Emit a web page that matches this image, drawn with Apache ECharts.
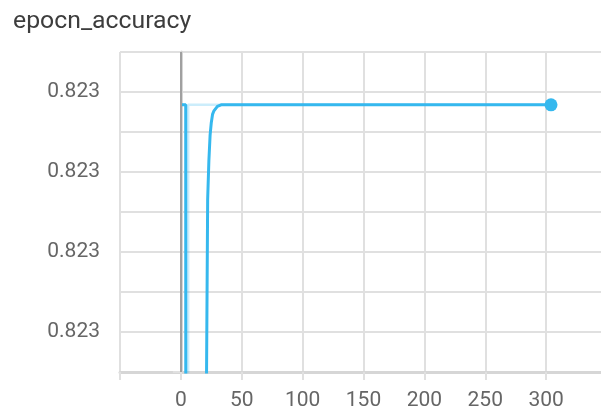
<!DOCTYPE html>
<html>
<head>
<meta charset="utf-8">
<script src="https://cdn.jsdelivr.net/npm/echarts@6/dist/echarts.min.js"></script>
<style>
  html, body { margin: 0; padding: 0; background: #fff; overflow: hidden; }
  #chart { width: 612px; height: 414px; }
</style>
</head>
<body>
<div id="chart"></div>
<script>
// epoch_accuracy scalar: raw values (faint) and smoothed values (solid)
const chartTitle = 'epocn_accuracy';

const rawSteps  = [0, 4, 5, 6, 304];
const rawValues = [0.8230067, 0.8230067, 0.8220000, 0.8230067, 0.8230067];

const smoothSteps  = [0, 4, 5, 10, 15, 19, 20, 21, 22, 23, 24, 25, 26, 27, 28, 30, 33, 36, 304];
const smoothValues = [
  0.8230067, 0.8230067, 0.8226000, 0.8227000, 0.8228200, 0.8229000, 0.8229500,
  0.8229890, 0.8230008, 0.8230032, 0.8230048, 0.8230056, 0.8230061, 0.8230063,
  0.8230064, 0.8230066, 0.8230067, 0.8230067, 0.8230067
];

const xMin = -50, xMax = 350, xStep = 50;
const yMin = 0.82299, yStep = 0.0000025, yMax = 0.82301;

const pair = (xs, ys) => xs.map((x, i) => [x, ys[i]]);

const lineColor = '#35b8ee';
const gridColor = '#e0e0e0';
const labelColor = '#666666';
const font = 'Roboto, "Noto Sans", sans-serif';

const chart = echarts.init(document.getElementById('chart'), null, { renderer: 'canvas' });
chart.setOption({
  animation: false,
  backgroundColor: '#ffffff',
  title: {
    text: chartTitle,
    left: 8, top: 4,
    textStyle: { fontFamily: font, fontSize: 24.8, fontWeight: 'normal', color: '#3d3d3d' }
  },
  // plot area runs past the right side of the visible page
  grid: { left: 120, top: 52, right: 5, height: 320, containLabel: false },
  xAxis: {
    type: 'value',
    min: xMin, max: xMax, interval: xStep,
    axisLine: { show: true, onZero: false, lineStyle: { color: '#d6d6d6', width: 3 } },
    axisTick: { show: true, length: 8, lineStyle: { color: gridColor, width: 2 } },
    axisLabel: {
      margin: 18, color: labelColor, fontFamily: font, fontSize: 21,
      formatter: v => (v < 0 || v > 300) ? '' : String(v)
    },
    splitLine: { show: true, lineStyle: { color: gridColor, width: 2 } }
  },
  yAxis: {
    type: 'value',
    min: yMin, max: yMax, interval: yStep,
    axisLine: { show: true, lineStyle: { color: '#d6d6d6', width: 3 } },
    axisTick: { show: true, length: 8, lineStyle: { color: gridColor, width: 2 } },
    axisLabel: {
      margin: 20, color: labelColor, fontFamily: font, fontSize: 21,
      formatter: (v, i) => (i % 2 === 1 ? v.toFixed(3) : '')
    },
    splitLine: { show: true, lineStyle: { color: gridColor, width: 2 } }
  },
  series: [
    {
      name: 'raw',
      type: 'line',
      data: pair(rawSteps, rawValues),
      showSymbol: false,
      clip: true,
      lineStyle: { color: lineColor, width: 2.5, opacity: 0.25 },
      z: 2
    },
    {
      name: 'smoothed',
      type: 'line',
      data: pair(smoothSteps, smoothValues),
      clip: true,
      symbol: 'circle',
      symbolSize: (val, p) => (p.dataIndex === smoothSteps.length - 1 ? 13 : 0),
      showAllSymbol: true,
      itemStyle: { color: lineColor },
      lineStyle: { color: lineColor, width: 3 },
      markLine: {
        silent: true,
        symbol: 'none',
        label: { show: false },
        lineStyle: { color: '#a0a0a0', width: 2, type: 'solid' },
        data: [{ xAxis: 0 }]
      },
      z: 3
    }
  ]
});
</script>
</body>
</html>
